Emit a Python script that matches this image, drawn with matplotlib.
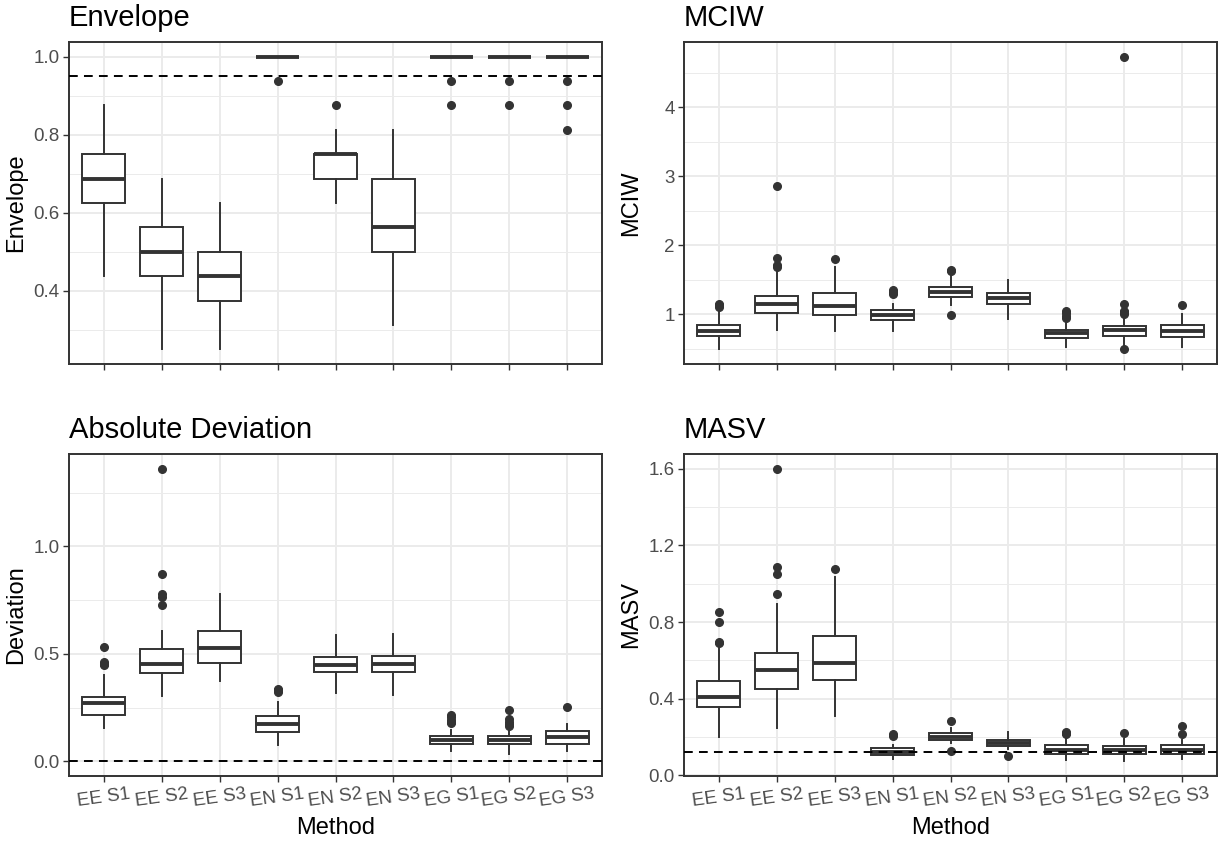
import matplotlib
matplotlib.use("Agg")
import matplotlib.pyplot as plt
from matplotlib.ticker import MultipleLocator, FormatStrFormatter

plt.rcParams['font.family'] = ['Liberation Sans', 'DejaVu Sans']

methods = ["EE S1", "EE S2", "EE S3", "EN S1", "EN S2", "EN S3", "EG S1", "EG S2", "EG S3"]

# ---- Envelope ----
env_lo  = [0.4375, 0.25,   0.25,   1.0, 0.625,  0.3125, 1.0, 1.0, 1.0]
env_q1  = [0.625,  0.4375, 0.375,  1.0, 0.6875, 0.5,    1.0, 1.0, 1.0]
env_med = [0.6875, 0.5,    0.4375, 1.0, 0.75,   0.5625, 1.0, 1.0, 1.0]
env_q3  = [0.75,   0.5625, 0.5,    1.0, 0.75,   0.6875, 1.0, 1.0, 1.0]
env_hi  = [0.875,  0.6875, 0.625,  1.0, 0.8125, 0.8125, 1.0, 1.0, 1.0]
env_out = [[], [], [], [0.9375], [0.875], [], [0.9375, 0.875], [0.9375, 0.875], [0.9375, 0.875, 0.8125]]
env_ref = 0.95

# ---- MCIW ----
mciw_lo  = [0.49, 0.77, 0.76, 0.75, 1.13, 0.93, 0.52, 0.56, 0.52]
mciw_q1  = [0.68, 1.02, 0.99, 0.91, 1.25, 1.15, 0.65, 0.69, 0.67]
mciw_med = [0.76, 1.15, 1.12, 0.99, 1.32, 1.24, 0.72, 0.77, 0.75]
mciw_q3  = [0.85, 1.27, 1.30, 1.06, 1.40, 1.31, 0.77, 0.83, 0.84]
mciw_hi  = [1.05, 1.62, 1.69, 1.14, 1.57, 1.49, 0.88, 0.97, 1.00]
mciw_out = [[1.10, 1.13, 1.15], [1.69, 1.71, 1.81, 2.85], [1.80], [1.29, 1.32, 1.35],
            [1.62, 1.64, 0.99], [], [0.94, 0.97, 1.02, 1.04], [1.00, 1.03, 1.05, 1.14, 0.50, 4.73], [1.13]]

# ---- Absolute Deviation ----
dev_lo  = [0.153, 0.304, 0.373, 0.077, 0.319, 0.309, 0.046, 0.035, 0.046]
dev_q1  = [0.215, 0.412, 0.458, 0.137, 0.414, 0.415, 0.083, 0.082, 0.083]
dev_med = [0.270, 0.455, 0.528, 0.174, 0.446, 0.455, 0.100, 0.100, 0.111]
dev_q3  = [0.301, 0.523, 0.608, 0.211, 0.486, 0.489, 0.120, 0.120, 0.139]
dev_hi  = [0.401, 0.605, 0.776, 0.275, 0.589, 0.591, 0.147, 0.150, 0.173]
dev_out = [[0.448, 0.455, 0.463, 0.532], [0.725, 0.764, 0.776, 0.869, 1.361], [],
           [0.324, 0.330, 0.336], [], [], [0.178, 0.185, 0.193, 0.205, 0.216],
           [0.165, 0.172, 0.181, 0.196, 0.239], [0.255]]
dev_ref = 0.0

# ---- MASV ----
masv_lo  = [0.200, 0.248, 0.311, 0.087, 0.170, 0.139, 0.078, 0.073, 0.083]
masv_q1  = [0.356, 0.451, 0.497, 0.108, 0.182, 0.151, 0.113, 0.113, 0.113]
masv_med = [0.411, 0.550, 0.589, 0.122, 0.201, 0.168, 0.130, 0.130, 0.134]
masv_q3  = [0.491, 0.639, 0.726, 0.142, 0.219, 0.184, 0.156, 0.151, 0.156]
masv_hi  = [0.663, 0.894, 1.036, 0.161, 0.248, 0.226, 0.191, 0.191, 0.182]
masv_out = [[0.689, 0.698, 0.802, 0.851], [0.948, 1.050, 1.090, 1.601], [1.076],
            [0.203, 0.217], [0.125, 0.285], [0.099], [0.214, 0.220, 0.226], [0.220], [0.214, 0.260]]
masv_ref = 0.12

DARK = '#333333'
GRID = '#EBEBEB'
W, H = 1225, 844
fig = plt.figure(figsize=(W / 100, H / 100), dpi=100)


def make_ax(left, top, right, bottom):
    return fig.add_axes([left / W, 1 - bottom / H, (right - left) / W, (bottom - top) / H])


def panel(ax, lo, q1, med, q3, hi, out, title, ylabel, major, minor, fmt, ref, show_x, ylab_px, left_px):
    stats = []
    for i in range(len(methods)):
        stats.append(dict(med=med[i], q1=q1[i], q3=q3[i], whislo=lo[i], whishi=hi[i],
                          fliers=out[i], label=methods[i]))
    pos = list(range(1, len(methods) + 1))
    ax.bxp(stats, positions=pos, widths=0.75, showcaps=False, patch_artist=True,
           boxprops=dict(facecolor='white', edgecolor=DARK, linewidth=1.4),
           medianprops=dict(color=DARK, linewidth=2.8, solid_capstyle='butt'),
           whiskerprops=dict(color=DARK, linewidth=1.4),
           flierprops=dict(marker='o', markerfacecolor=DARK, markeredgecolor=DARK,
                           markersize=5.5, linestyle='none'))
    allv = lo + hi + [v for o in out for v in o]
    if ref is not None:
        ax.axhline(ref, color='black', linewidth=1.4, linestyle=(0, (4.5, 3.2)), zorder=5)
        allv = allv + [ref]
    vmin, vmax = min(allv), max(allv)
    r = vmax - vmin
    ax.set_ylim(vmin - 0.05 * r, vmax + 0.05 * r)
    ax.set_xlim(0.4, len(methods) + 0.6)
    ax.yaxis.set_major_locator(MultipleLocator(major))
    ax.yaxis.set_minor_locator(MultipleLocator(minor))
    ax.yaxis.set_major_formatter(FormatStrFormatter(fmt))
    ax.set_xticks(pos)
    ax.grid(True, which='major', color=GRID, linewidth=1.4)
    ax.grid(True, which='minor', axis='y', color=GRID, linewidth=0.7)
    ax.set_axisbelow(True)
    ax.tick_params(which='major', length=4.2, width=1.0, color=DARK, labelsize=13.5,
                   labelcolor='#4D4D4D', pad=2.5)
    ax.tick_params(which='minor', length=0)
    if show_x:
        ax.set_xticklabels(methods, rotation=8, ha='center', va='top')
        ax.set_xlabel('Method', fontsize=17, color='black', labelpad=5)
    else:
        ax.set_xticklabels([])
    for s in ax.spines.values():
        s.set_color(DARK)
        s.set_linewidth(1.4)
    ax.set_title(title, loc='left', fontsize=21, pad=11.5)
    ax.set_ylabel(ylabel, fontsize=17, color='black')
    width_px = ax.get_position().width * W
    ax.yaxis.set_label_coords((ylab_px - left_px) / width_px, 0.5)
    ax.yaxis.label.set_va('center')


ax1 = make_ax(69, 42, 602, 364)
ax2 = make_ax(684, 42, 1217, 364)
ax3 = make_ax(69, 454, 602, 776)
ax4 = make_ax(684, 454, 1217, 776)

panel(ax1, env_lo, env_q1, env_med, env_q3, env_hi, env_out, 'Envelope', 'Envelope',
      0.2, 0.1, '%.1f', env_ref, False, 16, 69)
panel(ax2, mciw_lo, mciw_q1, mciw_med, mciw_q3, mciw_hi, mciw_out, 'MCIW', 'MCIW',
      1.0, 0.5, '%d', None, False, 631, 684)
panel(ax3, dev_lo, dev_q1, dev_med, dev_q3, dev_hi, dev_out, 'Absolute Deviation', 'Deviation',
      0.5, 0.25, '%.1f', dev_ref, True, 16, 69)
panel(ax4, masv_lo, masv_q1, masv_med, masv_q3, masv_hi, masv_out, 'MASV', 'MASV',
      0.4, 0.2, '%.1f', masv_ref, True, 631, 684)

fig.savefig('out.png', dpi=100, facecolor='white')
